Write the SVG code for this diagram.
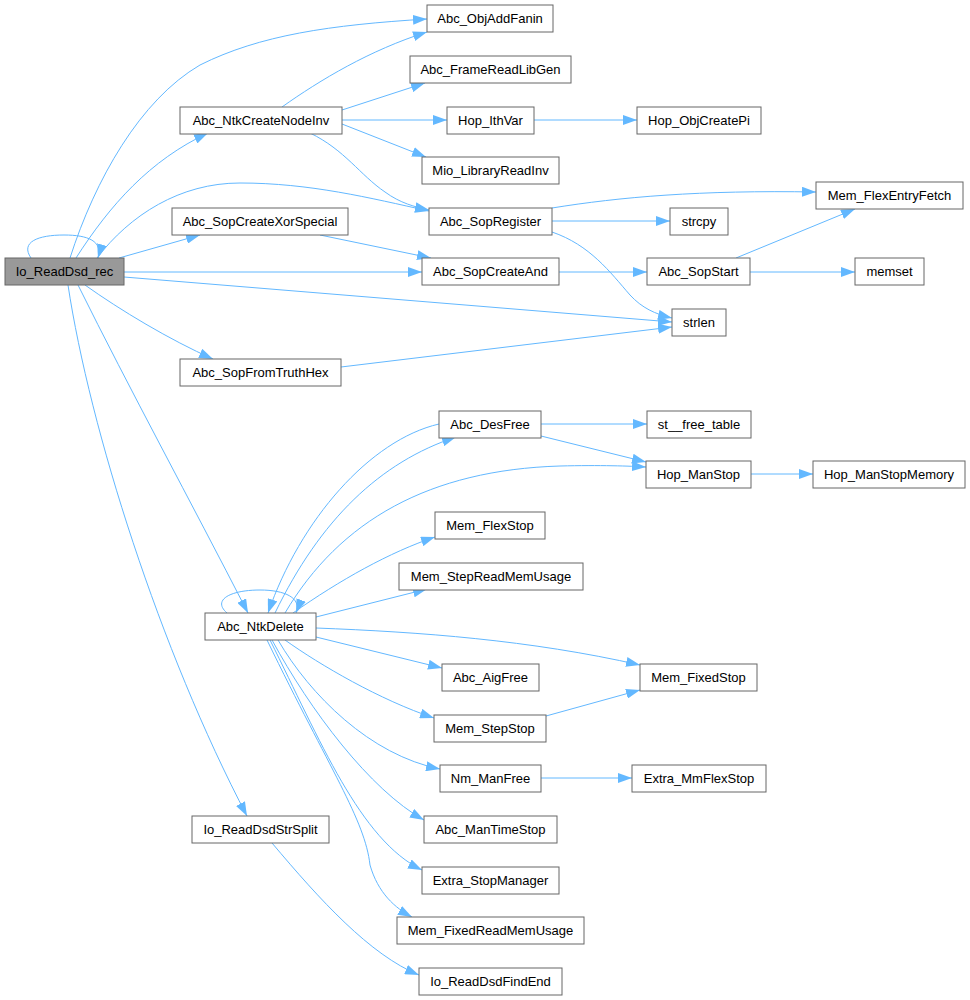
<svg xmlns="http://www.w3.org/2000/svg" width="970" height="1000" viewBox="0 0 970 1000">
<style>
.node rect{fill:#ffffff;stroke:#666666;stroke-width:1}
.node.root rect{fill:#999999}
.node text{font-family:"Liberation Sans",Arial,sans-serif;font-size:13px;text-anchor:middle;fill:#000000}
.edges path{fill:none;stroke:#63b8ff;stroke-width:1;marker-end:url(#ah)}
</style>
<defs>
<marker id="ah" markerWidth="14" markerHeight="10" refX="14" refY="5" orient="auto" markerUnits="userSpaceOnUse">
<path d="M0,0 L14,5 L0,10 z" fill="#63b8ff"/>
</marker>
</defs>
<rect x="0" y="0" width="970" height="1000" fill="#ffffff"/>
<g class="edges">
<path d="M31,258 C20,242 38,235 64,235 C88,235 103,241 98,258"/>
<path d="M70,258 C95,180 140,100 200,65 C260,35 330,25 427,19"/>
<path d="M76,258 C110,205 150,160 208,133"/>
<path d="M97,258 C130,215 180,183 240,183 C310,183 370,198 429,211"/>
<path d="M119,258 L200,235"/>
<path d="M124,272 L422,272"/>
<path d="M124,277 L672,322"/>
<path d="M85,285 C120,310 170,340 213,359"/>
<path d="M78,285 C130,390 190,500 248,613"/>
<path d="M68,285 C90,430 160,650 247,816"/>
<path d="M282,107 C320,80 370,50 427,32"/>
<path d="M342,110 L425,83"/>
<path d="M342,120 L447,120"/>
<path d="M342,124 L426,157"/>
<path d="M310,133 C345,150 360,175 385,192 C400,203 415,207 429,210"/>
<path d="M534,120 L637,120"/>
<path d="M320,235 L431,258"/>
<path d="M552,208 C620,197 700,190 816,192"/>
<path d="M552,221 L670,221"/>
<path d="M552,232 C590,245 610,272 630,295 C642,308 655,314 672,318"/>
<path d="M559,272 L647,272"/>
<path d="M736,258 L855,209"/>
<path d="M750,272 L855,272"/>
<path d="M341,367 L672,327"/>
<path d="M541,424 L647,424"/>
<path d="M541,436 L646,462"/>
<path d="M439,424 C370,440 300,520 268,613"/>
<path d="M275,613 C320,520 380,462 456,437"/>
<path d="M285,613 C340,520 430,470 560,466 C600,465 630,466 646,467"/>
<path d="M227,613 C212,600 230,590 260,590 C285,590 302,598 296,613"/>
<path d="M293,613 C340,580 390,552 435,537"/>
<path d="M316,617 L427,589"/>
<path d="M316,628 C420,632 530,640 640,665"/>
<path d="M316,637 L442,668"/>
<path d="M285,640 C320,665 380,700 434,718"/>
<path d="M278,640 C310,695 370,755 440,769"/>
<path d="M272,640 C310,710 370,790 424,820"/>
<path d="M270,640 C320,740 360,840 422,870"/>
<path d="M267,640 C330,770 365,820 370,865 C378,893 395,908 412,917"/>
<path d="M546,716 L640,690"/>
<path d="M541,778 L632,778"/>
<path d="M751,474 L813,474"/>
<path d="M272,843 C320,900 370,955 419,975"/>
</g>
<g id="n_Io_ReadDsd_rec" class="node root"><rect x="5" y="258" width="119" height="27"/><text x="64.5" y="276">Io_ReadDsd_rec</text></g>
<g id="n_Abc_NtkCreateNodeInv" class="node"><rect x="180" y="107" width="162" height="27"/><text x="261" y="125">Abc_NtkCreateNodeInv</text></g>
<g id="n_Abc_SopCreateXorSpecial" class="node"><rect x="172" y="208" width="176" height="27"/><text x="260" y="226">Abc_SopCreateXorSpecial</text></g>
<g id="n_Abc_SopFromTruthHex" class="node"><rect x="180" y="359" width="161" height="27"/><text x="260.5" y="377">Abc_SopFromTruthHex</text></g>
<g id="n_Abc_ObjAddFanin" class="node"><rect x="427" y="5" width="126" height="27"/><text x="490" y="23">Abc_ObjAddFanin</text></g>
<g id="n_Abc_FrameReadLibGen" class="node"><rect x="410" y="56" width="161" height="27"/><text x="490.5" y="74">Abc_FrameReadLibGen</text></g>
<g id="n_Hop_IthVar" class="node"><rect x="447" y="107" width="87" height="27"/><text x="490.5" y="125">Hop_IthVar</text></g>
<g id="n_Hop_ObjCreatePi" class="node"><rect x="637" y="107" width="124" height="27"/><text x="699" y="125">Hop_ObjCreatePi</text></g>
<g id="n_Mio_LibraryReadInv" class="node"><rect x="422" y="157" width="137" height="27"/><text x="490.5" y="175">Mio_LibraryReadInv</text></g>
<g id="n_Abc_SopRegister" class="node"><rect x="429" y="208" width="123" height="27"/><text x="490.5" y="226">Abc_SopRegister</text></g>
<g id="n_Abc_SopCreateAnd" class="node"><rect x="422" y="258" width="137" height="27"/><text x="490.5" y="276">Abc_SopCreateAnd</text></g>
<g id="n_Mem_FlexEntryFetch" class="node"><rect x="816" y="182" width="147" height="27"/><text x="889.5" y="200">Mem_FlexEntryFetch</text></g>
<g id="n_strcpy" class="node"><rect x="670" y="208" width="58" height="27"/><text x="699" y="226">strcpy</text></g>
<g id="n_Abc_SopStart" class="node"><rect x="647" y="258" width="103" height="27"/><text x="698.5" y="276">Abc_SopStart</text></g>
<g id="n_memset" class="node"><rect x="855" y="258" width="69" height="27"/><text x="889.5" y="276">memset</text></g>
<g id="n_strlen" class="node"><rect x="672" y="309" width="54" height="27"/><text x="699" y="327">strlen</text></g>
<g id="n_Abc_DesFree" class="node"><rect x="439" y="411" width="102" height="27"/><text x="490" y="429">Abc_DesFree</text></g>
<g id="n_st__free_table" class="node"><rect x="647" y="411" width="104" height="27"/><text x="699" y="429">st__free_table</text></g>
<g id="n_Hop_ManStop" class="node"><rect x="646" y="461" width="105" height="27"/><text x="698.5" y="479">Hop_ManStop</text></g>
<g id="n_Hop_ManStopMemory" class="node"><rect x="813" y="461" width="152" height="27"/><text x="889" y="479">Hop_ManStopMemory</text></g>
<g id="n_Mem_FlexStop" class="node"><rect x="435" y="512" width="110" height="27"/><text x="490" y="530">Mem_FlexStop</text></g>
<g id="n_Mem_StepReadMemUsage" class="node"><rect x="399" y="563" width="184" height="27"/><text x="491" y="581">Mem_StepReadMemUsage</text></g>
<g id="n_Abc_NtkDelete" class="node"><rect x="205" y="613" width="111" height="27"/><text x="260.5" y="631">Abc_NtkDelete</text></g>
<g id="n_Mem_FixedStop" class="node"><rect x="640" y="664" width="117" height="27"/><text x="698.5" y="682">Mem_FixedStop</text></g>
<g id="n_Abc_AigFree" class="node"><rect x="442" y="664" width="97" height="27"/><text x="490.5" y="682">Abc_AigFree</text></g>
<g id="n_Mem_StepStop" class="node"><rect x="434" y="715" width="112" height="27"/><text x="490" y="733">Mem_StepStop</text></g>
<g id="n_Nm_ManFree" class="node"><rect x="440" y="765" width="101" height="27"/><text x="490.5" y="783">Nm_ManFree</text></g>
<g id="n_Extra_MmFlexStop" class="node"><rect x="632" y="765" width="134" height="27"/><text x="699" y="783">Extra_MmFlexStop</text></g>
<g id="n_Abc_ManTimeStop" class="node"><rect x="424" y="816" width="133" height="27"/><text x="490.5" y="834">Abc_ManTimeStop</text></g>
<g id="n_Extra_StopManager" class="node"><rect x="422" y="867" width="137" height="27"/><text x="490.5" y="885">Extra_StopManager</text></g>
<g id="n_Mem_FixedReadMemUsage" class="node"><rect x="397" y="917" width="187" height="27"/><text x="490.5" y="935">Mem_FixedReadMemUsage</text></g>
<g id="n_Io_ReadDsdStrSplit" class="node"><rect x="192" y="816" width="137" height="27"/><text x="260.5" y="834">Io_ReadDsdStrSplit</text></g>
<g id="n_Io_ReadDsdFindEnd" class="node"><rect x="419" y="968" width="143" height="27"/><text x="490.5" y="986">Io_ReadDsdFindEnd</text></g>
</svg>
